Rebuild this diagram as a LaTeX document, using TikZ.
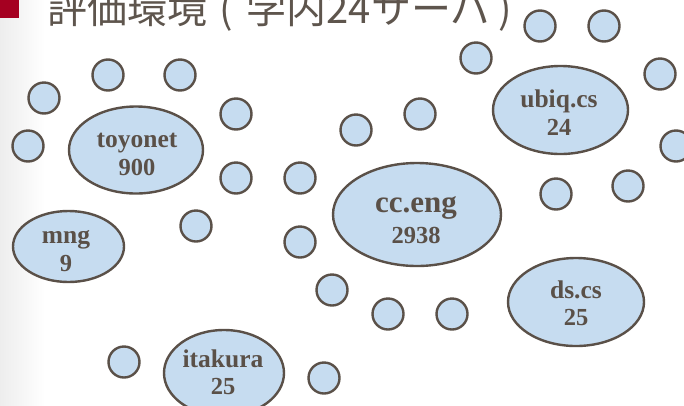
\documentclass[tikz,border=0pt]{standalone}
\usepackage{fontspec}
\setmainfont{Liberation Serif}
\newfontfamily\jpfont{Noto Sans CJK JP}
\usetikzlibrary{shapes.geometric}
\definecolor{inkc}{HTML}{5A5048}
\definecolor{fillc}{HTML}{C6DCF0}
\definecolor{titlec}{HTML}{5E554D}
\definecolor{bulletc}{HTML}{A50021}
\tikzset{
  hostbox/.style={circle, draw=inkc, fill=fillc, line width=2.4pt, minimum size=31pt, inner sep=0pt},
  domainbox/.style={ellipse, draw=inkc, fill=fillc, line width=2.4pt, inner sep=0pt},
  lbl/.style={anchor=base, inner sep=0pt, text=inkc, font=\bfseries\fontsize{25.5}{25.5}\selectfont},
  numlbl/.style={anchor=base, inner sep=0pt, text=inkc, font=\bfseries\fontsize{24.5}{24.5}\selectfont},
}
\begin{document}
\begin{tikzpicture}[x=1pt, y=-1pt]
\useasboundingbox (0,0) rectangle (684,405);
\fill[white] (0,0) rectangle (684,405);
\shade[left color=black!7, right color=white] (0,0) rectangle (45,405);
% title
\fill[bulletc] (0,-10) rectangle (19,18);
\node[anchor=base west, inner sep=0pt, text=titlec, font=\jpfont\fontsize{40}{40}\selectfont] (title) at (47,23) {評価環境\hspace{12pt}(\hspace{14pt}学内24サーバ\hspace{8pt})};
% small hosts
\foreach \n/\x/\y in {h1/44/98, h2/108/75, h3/180/75, h4/28/146, h5/236/114, h6/236/178,
  h7/196/226, h8/300/178, h9/300/242, h10/356/130, h11/420/114, h12/476/58,
  h13/540/26, h14/604/26, h15/660/74, h16/676/146, h17/628/186, h18/556/194,
  h19/332/290, h20/388/314, h21/452/314, h22/124/362, h23/324/378}
  \node[hostbox] (\n) at (\x,\y) {};
% domains
\node[domainbox, minimum width=134pt, minimum height=87pt] (toyonet) at (136,150) {};
\node[domainbox, minimum width=111pt, minimum height=71pt] (mng) at (68.5,246.5) {};
\node[domainbox, minimum width=168pt, minimum height=103pt] (cceng) at (417,214.5) {};
\node[domainbox, minimum width=135pt, minimum height=88pt] (ubiq) at (560.5,110) {};
\node[domainbox, minimum width=136pt, minimum height=88pt] (dscs) at (576,302) {};
\node[domainbox, minimum width=120pt, minimum height=86pt] (itakura) at (224,373) {};
% labels
\node[lbl] (toyonetT) at (137,147) {toyonet};
\node[numlbl] (toyonetN) at (137,175) {900};
\node[lbl] (mngT) at (66,243) {mng};
\node[numlbl] (mngN) at (66,271) {9};
\node[lbl, font=\bfseries\fontsize{31}{31}\selectfont] (ccengT) at (416,212) {cc.eng};
\node[numlbl] (ccengN) at (416,243) {2938};
\node[lbl] (ubiqT) at (559,107) {ubiq.cs};
\node[numlbl] (ubiqN) at (559,135) {24};
\node[lbl] (dscsT) at (576,298) {ds.cs};
\node[numlbl] (dscsN) at (576,325) {25};
\node[lbl] (itakuraT) at (223,367) {itakura};
\node[numlbl] (itakuraN) at (223,394) {25};
\end{tikzpicture}
\end{document}
